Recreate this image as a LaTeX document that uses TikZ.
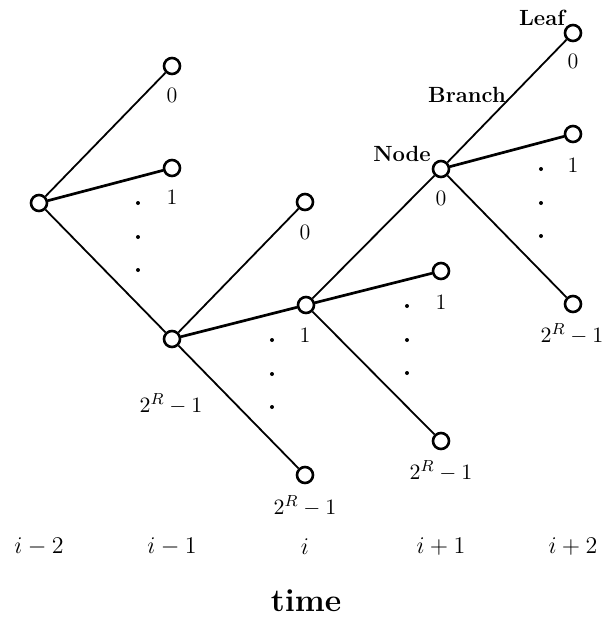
\documentclass[tikz,border=0pt]{standalone}
\usepackage{amsmath}
\usepackage{tikz}
\usetikzlibrary{positioning}
\tikzset{
  vert/.style={circle,draw=black,fill=white,line width=1.3pt,inner sep=0pt,minimum size=8pt},
  rama/.style={draw=black,line width=0.9pt},
  ramamed/.style={draw=black,line width=1.35pt},
  etiq/.style={font=\fontsize{11}{13}\selectfont,inner sep=1pt},
  nombre/.style={font=\fontsize{11}{13}\selectfont\bfseries,inner sep=1pt},
  tiempo/.style={font=\fontsize{13}{15}\selectfont,inner sep=1pt},
  punto/.style={circle,fill=black,inner sep=0pt,minimum size=2pt},
}
\begin{document}
\begin{tikzpicture}[x=0.5pt,y=-0.5pt]
\useasboundingbox (0,0) rectangle (606,618);
% nodes
\node[vert] (a) at (39,203) {};
\node[vert] (b0) at (172,66) {};
\node[vert] (b1) at (172,168) {};
\node[vert] (b2) at (172,339) {};
\node[vert] (c0) at (305,202) {};
\node[vert] (c1) at (306,305) {};
\node[vert] (c2) at (305,475) {};
\node[vert] (d0) at (441,169) {};
\node[vert] (d1) at (441,271) {};
\node[vert] (d2) at (441,441) {};
\node[vert] (e0) at (573,33) {};
\node[vert] (e1) at (573,134) {};
\node[vert] (e2) at (573,304) {};
% branches
\draw[rama] (a) -- (b0);
\draw[ramamed] (a) -- (b1);
\draw[rama] (a) -- (b2);
\draw[rama] (b2) -- (c0);
\draw[ramamed] (b2) -- (c1);
\draw[rama] (b2) -- (c2);
\draw[rama] (c1) -- (d0);
\draw[ramamed] (c1) -- (d1);
\draw[rama] (c1) -- (d2);
\draw[rama] (d0) -- (e0);
\draw[ramamed] (d0) -- (e1);
\draw[rama] (d0) -- (e2);
% leaf labels
\node[etiq] (lb0) at (172,95) {0};
\node[etiq] (lb1) at (172,197) {1};
\node[etiq] (lb2) at (171,404) {$2^R-1$};
\node[etiq] (lc0) at (305,232) {0};
\node[etiq] (lc1) at (305,335) {1};
\node[etiq] (lc2) at (305,506) {$2^R-1$};
\node[etiq] (ld0) at (441,198) {0};
\node[etiq] (ld1) at (441,302) {1};
\node[etiq] (ld2) at (441,471) {$2^R-1$};
\node[etiq] (le0) at (573,61) {0};
\node[etiq] (le1) at (573,165) {1};
\node[etiq] (le2) at (572,334) {$2^R-1$};
% dots
\foreach \px/\py [count=\k] in {138/203,272/340,407/306,541/169}{
  \node[punto] (p\k a) at (\px,\py) {};
  \node[punto] (p\k b) at (\px,\py+34) {};
  \node[punto] (p\k c) at (\px,\py+67) {};
}
% names
\node[nombre] (nnodo) at (402,154) {Node};
\node[nombre] (nrama) at (467,95) {Branch};
\node[nombre] (nhoja) at (542,18) {Leaf};
% time axis
\node[tiempo] (t1) at (39,547) {$i-2$};
\node[tiempo] (t2) at (172,547) {$i-1$};
\node[tiempo] (t3) at (305,547) {$i$};
\node[tiempo] (t4) at (441,547) {$i+1$};
\node[tiempo] (t5) at (573,547) {$i+2$};
\node[font=\fontsize{16}{18}\selectfont\bfseries] (tt) at (306,601) {time};
\end{tikzpicture}
\end{document}
